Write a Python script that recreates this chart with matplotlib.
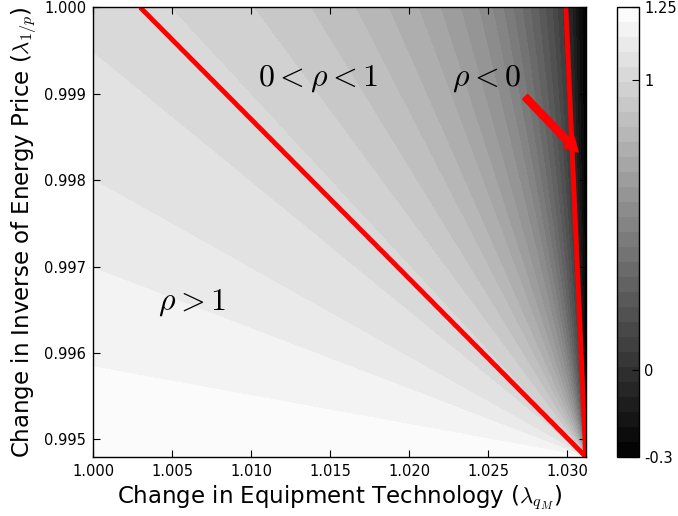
import numpy as np
import matplotlib
matplotlib.use("Agg")
import matplotlib.pyplot as plt

plt.rcParams['mathtext.fontset'] = 'cm'
plt.rcParams['font.family'] = ['DejaVu Sans']

# ---- data ----
x_min, x_max = 1.000, 1.03116
y_min, y_max = 0.9948, 1.000
levels = np.linspace(-0.3, 1.25, 31)
cbar_ticks = [-0.3, 0, 1, 1.25]
cbar_ticklabels = ['-0.3', '0', '1', '1.25']

# rays from the corner (x_max, y_min): where a value of rho meets the left edge (x = 1.000)
left_edge_y = [0.9948, 0.99584, 0.99698, 0.99800, 0.99947]
left_edge_rho = [1.25, 1.1983, 1.1467, 1.095, 1.0433]
# ... and where a value of rho meets the top edge (y = 1.000)
top_edge_x = [1.00296, 1.00485, 1.01011, 1.01372, 1.01656, 1.01865, 1.02055, 1.02194,
              1.02321, 1.02435, 1.02523, 1.02593, 1.02656, 1.02713, 1.02764, 1.02815,
              1.02859, 1.02903, 1.02935, 1.02966, 1.02990, 1.03030, 1.03070, 1.03095,
              1.03116]
top_edge_rho = [1.0, 0.9917, 0.94, 0.8883, 0.8367, 0.785, 0.7333, 0.6817,
                0.63, 0.5783, 0.5267, 0.475, 0.4233, 0.3717, 0.32, 0.2683,
                0.2167, 0.165, 0.1133, 0.0617, 0.0, -0.0933, -0.1967, -0.25,
                -0.3]

contour_levels = [0.0, 1.0]
labels = [(r'$0<\rho<1$', 1.0104, 0.99910),
          (r'$\rho<0$', 1.0227, 0.99910),
          (r'$\rho>1$', 1.0041, 0.99650)]
arrow_tail = (1.02732, 0.998965)
arrow_head = (1.03068, 0.998325)


def ray_angle(x, y):
    dxn = (x_max - np.asarray(x)) / (x_max - x_min)
    dyn = (np.asarray(y) - y_min) / (y_max - y_min)
    return np.arctan2(dyn, dxn)


ref_ang = np.concatenate([ray_angle(np.full(len(left_edge_y), x_min), left_edge_y),
                          ray_angle(top_edge_x, np.full(len(top_edge_x), y_max))])
ref_rho = np.concatenate([left_edge_rho, top_edge_rho])
order = np.argsort(ref_ang)
ref_ang, ref_rho = ref_ang[order], ref_rho[order]

X, Y = np.meshgrid(np.linspace(x_min, x_max, 500), np.linspace(y_min, y_max, 500))
RHO = np.interp(ray_angle(X, Y), ref_ang, ref_rho)

fig = plt.figure(figsize=(6.78, 5.16), dpi=100)
ax = fig.add_axes([0.1376, 0.1149, 0.7263, 0.8709])
cax = fig.add_axes([0.9096, 0.1149, 0.0330, 0.8709])

cf = ax.contourf(X, Y, RHO, levels=levels, cmap='gray', vmin=-0.3, vmax=1.25)
ax.contour(X, Y, RHO, levels=contour_levels, colors='red', linewidths=3.5)

for txt, tx, ty in labels:
    ax.text(tx, ty, txt, fontsize=23, ha='left', va='baseline')

ax.annotate('', xy=arrow_head, xytext=arrow_tail,
            arrowprops=dict(facecolor='red', edgecolor='red', width=5,
                            headwidth=11, headlength=10, shrink=0))

ax.set_xlim(x_min, x_max)
ax.set_ylim(y_min, y_max)
ax.set_xticks([1.000, 1.005, 1.010, 1.015, 1.020, 1.025, 1.030])
ax.set_yticks([0.995, 0.996, 0.997, 0.998, 0.999, 1.000])
ax.xaxis.set_major_formatter(matplotlib.ticker.FormatStrFormatter('%.3f'))
ax.yaxis.set_major_formatter(matplotlib.ticker.FormatStrFormatter('%.3f'))
ax.tick_params(direction='in', top=True, right=True, length=5, labelsize=10.5, pad=5)
ax.set_xlabel(r'Change in Equipment Technology ($\lambda_{q_M}$)', fontsize=16.5)
ax.set_ylabel(r'Change in Inverse of Energy Price ($\lambda_{1/p}$)', fontsize=16.5)
for s in ax.spines.values():
    s.set_linewidth(1.0)

cb = fig.colorbar(cf, cax=cax, ticks=cbar_ticks)
cb.ax.set_yticklabels(cbar_ticklabels)
cb.ax.tick_params(direction='in', length=5, labelsize=10.5)
cb.outline.set_linewidth(1.0)

fig.savefig('out.png', dpi=100)
